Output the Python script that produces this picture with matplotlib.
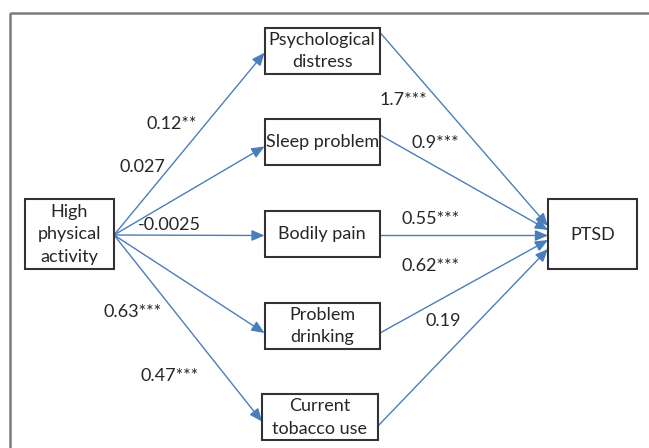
import matplotlib
matplotlib.use("Agg")
import matplotlib.pyplot as plt
from matplotlib.patches import Rectangle

# path model data
predictor = "High\nphysical\nactivity"
outcome = "PTSD"
mediators = ["Psychological\ndistress", "Sleep problem", "Bodily pain",
             "Problem\ndrinking", "Current\ntobacco use"]
a_paths = ["0.12**", "0.027", "-0.0025", "0.63***", "0.47***"]
b_paths = ["1.7***", "0.9***", "0.55***", "0.62***", "0.19"]

BLUE = '#4a7ebb'
EDGE = '#333333'
TXT = '#262626'
FONT = 'Lato'
FS = 13

fig = plt.figure(figsize=(6.49, 4.48), dpi=100, facecolor='white')
ax = fig.add_axes([0, 0, 1, 1])
ax.set_xlim(0, 649)
ax.set_ylim(448, 0)
ax.axis('off')

# outer frame (right / bottom run off the picture)
ax.add_patch(Rectangle((9.5, 13), 660, 460, fill=False, edgecolor='#7a7a7a', lw=1.8))


def box(x0, y0, w, h, text):
    ax.add_patch(Rectangle((x0, y0), w, h, fill=False, edgecolor=EDGE, lw=1.5, zorder=3))
    ax.text(x0 + w / 2, y0 + h / 2, text, ha='center', va='center', color=TXT,
            fontsize=FS, family=FONT, linespacing=1.5, zorder=4)


def arrow(p0, p1):
    ax.annotate('', xy=p1, xytext=p0,
                arrowprops=dict(arrowstyle='-|>,head_length=0.7,head_width=0.3', lw=1.0,
                                color=BLUE, shrinkA=0, shrinkB=0, mutation_scale=11),
                zorder=2)


# layout
MX, MW, MH = 264.5, 115.5, 46
med_top = [28, 119.5, 211, 303, 394.5]
med_x = [MX, MX, MX, MX, 262]
a_tip = [52.7, 146.5, 235.5, 333, 421.5]
b_start = [32.5, 135, 235.5, 333, 426.5]
b_end = [226, 230, 235.5, 240, 249]

box(25, 199.5, 89, 70, predictor)
box(548, 199.5, 89, 70, outcome)
src = (114, 235)

for i, name in enumerate(mediators):
    box(med_x[i], med_top[i], MW, MH, name)
    arrow(src, (med_x[i], a_tip[i]))
    arrow((med_x[i] + MW, b_start[i]), (548, b_end[i]))

# coefficient labels
a_pos = [(172, 124), (142, 167), (169, 225), (133, 312), (170, 376)]
b_pos = [(403, 100), (435, 143), (431, 219), (431, 266), (443, 321)]
for lab, (x, y) in zip(a_paths, a_pos):
    ax.text(x, y, lab, ha='center', va='center', color=TXT, fontsize=FS, family=FONT)
for lab, (x, y) in zip(b_paths, b_pos):
    ax.text(x, y, lab, ha='center', va='center', color=TXT, fontsize=FS, family=FONT)

plt.savefig('out.png', dpi=100, facecolor='white')
